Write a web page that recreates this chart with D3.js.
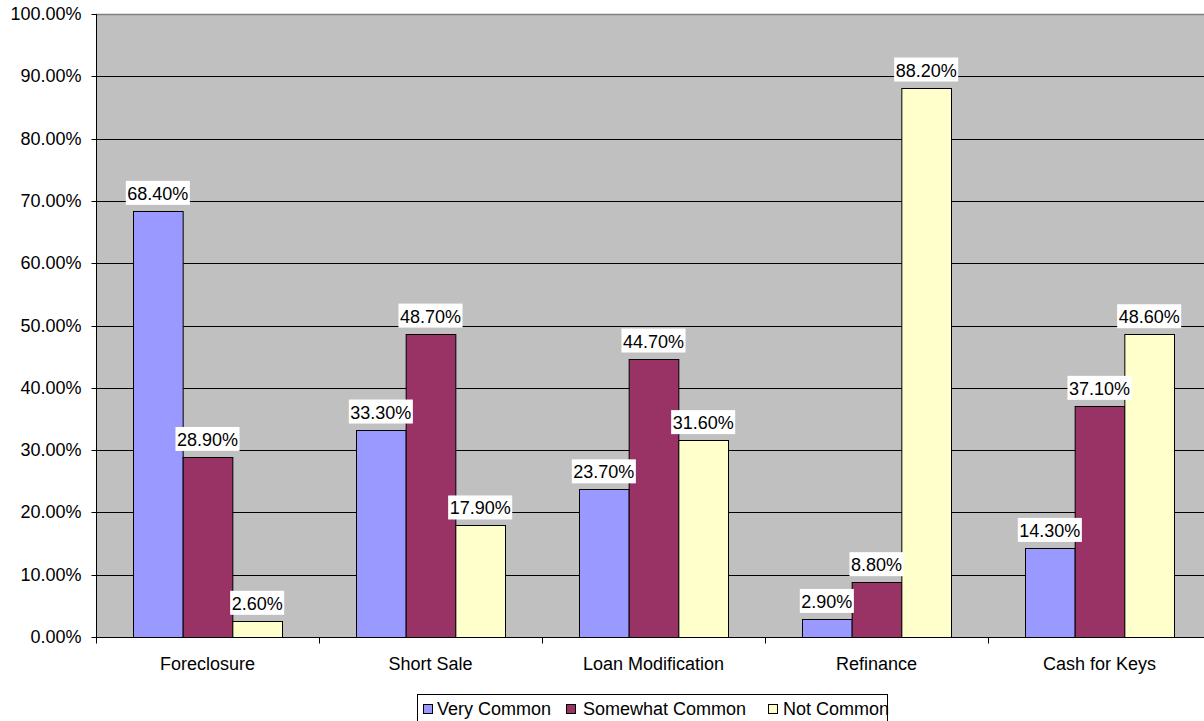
<!DOCTYPE html>
<html>
<head>
<meta charset="utf-8">
<script src="https://cdn.jsdelivr.net/npm/d3@7"></script>
<style>
  html, body { margin: 0; padding: 0; background: #fff; }
  svg { display: block; font-family: "Liberation Sans", Arial, sans-serif; }
</style>
</head>
<body>
<svg id="chart" width="1204" height="721"></svg>
<script>
// Survey responses: how common each outcome is
const categories = ["Foreclosure", "Short Sale", "Loan Modification", "Refinance", "Cash for Keys"];
const seriesNames = ["Very Common", "Somewhat Common", "Not Common"];
const veryCommon = [68.4, 33.3, 23.7, 2.9, 14.3];
const somewhatCommon = [28.9, 48.7, 44.7, 8.8, 37.1];
const notCommon = [2.6, 17.9, 31.6, 88.2, 48.6];
const yTicks = [0, 10, 20, 30, 40, 50, 60, 70, 80, 90, 100];

const seriesValues = [veryCommon, somewhatCommon, notCommon];
const colors = ["#9999FF", "#993366", "#FFFFCC"];

const svg = d3.select("#chart");
const plot = { left: 96, right: 1211, top: 14, bottom: 637 };

const x0 = d3.scaleBand().domain(categories).range([plot.left, plot.right]).paddingInner(0).paddingOuter(0);
const groupPad = 37;
const x1 = d3.scaleBand().domain(seriesNames)
  .range([groupPad, x0.bandwidth() - groupPad]).padding(0);
const y = d3.scaleLinear().domain([0, 100]).range([plot.bottom, plot.top]);

// plot background
svg.append("rect")
  .attr("x", plot.left).attr("y", plot.top)
  .attr("width", plot.right - plot.left).attr("height", plot.bottom - plot.top)
  .attr("fill", "#C0C0C0");

// horizontal gridlines
svg.append("g").selectAll("line")
  .data(yTicks.filter(t => t > 0 && t < 100))
  .join("line")
  .attr("x1", plot.left).attr("x2", plot.right)
  .attr("y1", d => Math.round(y(d)) + 0.5).attr("y2", d => Math.round(y(d)) + 0.5)
  .attr("stroke", "#000").attr("stroke-width", 1);

// top edge of plot area
svg.append("line")
  .attr("x1", plot.left).attr("x2", plot.right)
  .attr("y1", plot.top + 0.5).attr("y2", plot.top + 0.5)
  .attr("stroke", "#808080").attr("stroke-width", 1.5);

// bars
const groups = svg.append("g").selectAll("g")
  .data(categories)
  .join("g")
  .attr("transform", d => `translate(${x0(d)},0)`);

groups.selectAll("rect")
  .data((c, i) => seriesNames.map((s, k) => ({ s, k, v: seriesValues[k][i] })))
  .join("rect")
  .attr("x", d => x1(d.s) + 0.5)
  .attr("y", d => Math.round(y(d.v)) + 0.5)
  .attr("width", x1.bandwidth())
  .attr("height", d => plot.bottom - Math.round(y(d.v)))
  .attr("fill", d => colors[d.k])
  .attr("stroke", "#000").attr("stroke-width", 1);

// value labels with white boxes
const fmt = d => d.toFixed(2) + "%";
groups.each(function (c, i) {
  const g = d3.select(this);
  seriesNames.forEach((s, k) => {
    const v = seriesValues[k][i];
    const cx = x1(s) + x1.bandwidth() / 2;
    const baseY = y(v) - 11;
    const lbl = g.append("g");
    const t = lbl.append("text")
      .attr("x", cx).attr("y", baseY)
      .attr("text-anchor", "middle")
      .attr("font-size", 18).attr("fill", "#000")
      .text(fmt(v));
    const bb = t.node().getBBox();
    lbl.insert("rect", "text")
      .attr("x", bb.x - 1.5).attr("y", baseY - 19)
      .attr("width", bb.width + 3).attr("height", 24)
      .attr("fill", "#fff");
  });
});

// y axis
const yAxis = d3.axisLeft(y).tickValues(yTicks).tickFormat(d => d.toFixed(2) + "%").tickSize(5).tickPadding(10);
const yg = svg.append("g").attr("transform", `translate(${plot.left + 0.5},0)`).call(yAxis);
yg.select(".domain").attr("stroke", "#000").attr("d", `M0,${plot.top}V${plot.bottom + 0.5}`);
yg.selectAll(".tick line").attr("stroke", "#000");
yg.selectAll(".tick text").attr("font-size", 18).attr("fill", "#000")
  .attr("font-family", "Liberation Sans, Arial, sans-serif");
yg.selectAll(".tick").attr("transform", d => `translate(0,${Math.round(y(d)) + 0.5})`);

// x axis
const xAxis = d3.axisBottom(x0).tickSize(0).tickPadding(20);
const xg = svg.append("g").attr("transform", `translate(0,${plot.bottom + 0.5})`).call(xAxis);
xg.select(".domain").attr("stroke", "#000").attr("d", `M${plot.left},0H${plot.right}`);
xg.selectAll(".tick text").attr("font-size", 18).attr("fill", "#000")
  .attr("font-family", "Liberation Sans, Arial, sans-serif");
// category separator ticks
xg.append("g").selectAll("line")
  .data(d3.range(categories.length + 1))
  .join("line")
  .attr("x1", i => plot.left + i * x0.step() + 0.5)
  .attr("x2", i => plot.left + i * x0.step() + 0.5)
  .attr("y1", 0).attr("y2", 6)
  .attr("stroke", "#000");

// legend
const legend = svg.append("g").attr("transform", "translate(417,694)");
legend.append("rect")
  .attr("x", 0.5).attr("y", 0.5).attr("width", 470).attr("height", 40)
  .attr("fill", "#fff").attr("stroke", "#000");
const swatchX = [6, 149, 351];
const labelX = [20, 166, 366];
seriesNames.forEach((s, k) => {
  legend.append("rect")
    .attr("x", swatchX[k] + 0.5).attr("y", 10.5).attr("width", 9).attr("height", 9)
    .attr("fill", colors[k]).attr("stroke", "#000");
  legend.append("text")
    .attr("x", labelX[k]).attr("y", 21)
    .attr("font-size", 18).attr("fill", "#000")
    .text(s);
});
</script>
</body>
</html>
